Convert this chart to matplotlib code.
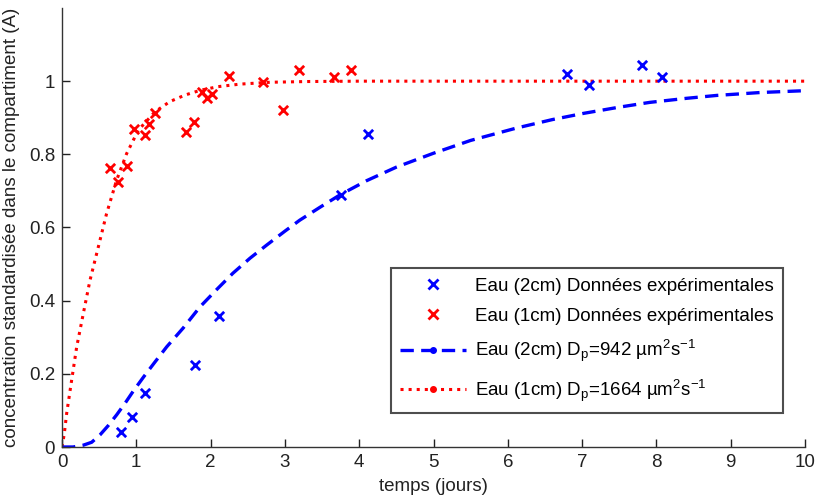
import matplotlib
matplotlib.use("Agg")
import matplotlib.pyplot as plt
from matplotlib.lines import Line2D

FONT = ['Liberation Sans', 'DejaVu Sans']
plt.rcParams['font.family'] = FONT
plt.rcParams['mathtext.fontset'] = 'custom'
plt.rcParams['mathtext.rm'] = 'Liberation Sans'
plt.rcParams['mathtext.it'] = 'Liberation Sans'

# Experimental data
blue_x = [0.79, 0.938, 1.117, 1.79, 2.113, 3.76, 4.114, 6.797, 7.09, 7.81, 8.07]
blue_y = [0.04, 0.081, 0.147, 0.224, 0.358, 0.689, 0.855, 1.019, 0.99, 1.044, 1.012]

red_x = [0.646, 0.758, 0.87, 0.973, 1.113, 1.167, 1.256, 1.665, 1.777, 1.88,
         1.947, 2.015, 2.25, 2.71, 2.97, 3.186, 3.665, 3.89]
red_y = [0.763, 0.725, 0.768, 0.868, 0.852, 0.884, 0.913, 0.860, 0.889, 0.970,
         0.953, 0.966, 1.015, 0.998, 0.921, 1.030, 1.012, 1.030]

# Fitted curves
fit_blue_t = [0.0, 0.15, 0.287, 0.4, 0.511, 0.62, 0.736, 0.85, 0.96, 1.1, 1.25, 1.41,
              1.63, 1.857, 2.08, 2.3, 2.53, 2.755, 3.0, 3.2, 3.47, 3.74, 4.1, 4.5,
              5.0, 5.5, 6.12, 6.6, 7.02, 7.5, 7.91, 8.4, 8.81, 9.4, 10.0]
fit_blue_c = [0.0, 0.0, 0.005, 0.013, 0.033, 0.058, 0.088, 0.12, 0.153, 0.192, 0.232,
              0.274, 0.325, 0.383, 0.43, 0.475, 0.516, 0.552, 0.59, 0.62, 0.655,
              0.689, 0.728, 0.765, 0.803, 0.838, 0.872, 0.895, 0.912, 0.929, 0.942,
              0.953, 0.961, 0.969, 0.974]

fit_red_t = [0.0, 0.03, 0.063, 0.13, 0.198, 0.287, 0.377, 0.489, 0.6, 0.736, 0.87,
             1.027, 1.25, 1.45, 1.655, 1.86, 2.1, 2.4, 2.8, 3.3, 4.0, 5.0, 6.0, 7.0,
             8.0, 9.0, 10.0]
fit_red_c = [0.0, 0.035, 0.092, 0.183, 0.274, 0.365, 0.456, 0.547, 0.638, 0.73,
             0.802, 0.866, 0.916, 0.944, 0.962, 0.975, 0.985, 0.992, 0.997, 0.999,
             1.0, 1.0, 1.0, 1.0, 1.0, 1.0, 1.0]

xticks = [0, 1, 2, 3, 4, 5, 6, 7, 8, 9, 10]
yticks = [0, 0.2, 0.4, 0.6, 0.8, 1.0]
ytick_labels = ['0', '0.2', '0.4', '0.6', '0.8', '1']

FS = 13.5

fig = plt.figure(figsize=(8.15, 4.95), dpi=100)
ax = fig.add_axes([62 / 815, 1 - 447 / 495, 743 / 815, 439 / 495])

ax.plot(fit_red_t, fit_red_c, color='red', linestyle=':', linewidth=2.2, zorder=2)
ax.plot(fit_blue_t, fit_blue_c, color='blue', linestyle=(0, (4, 2.2)), linewidth=2.4, zorder=2)
ax.scatter(blue_x, blue_y, marker='x', color='blue', s=45, linewidths=2, zorder=3)
ax.scatter(red_x, red_y, marker='x', color='red', s=45, linewidths=2, zorder=3)

ax.set_xlim(0, 10)
ax.set_ylim(0, 1.2)
ax.set_xticks(xticks)
ax.set_xticklabels([str(t) for t in xticks])
ax.set_yticks(yticks)
ax.set_yticklabels(ytick_labels)
ax.tick_params(direction='in', length=6, width=1, labelsize=FS, colors='#222222', pad=5)
for side in ['top', 'right']:
    ax.spines[side].set_visible(False)
for side in ['left', 'bottom']:
    ax.spines[side].set_color('#333333')
    ax.spines[side].set_linewidth(1)

ax.set_xlabel('temps (jours)', fontsize=FS, color='#222222', labelpad=5)
ax.set_ylabel('concentration standardisée dans le compartiment (A)', fontsize=13.5,
              color='#222222', labelpad=6)

handles = [
    Line2D([], [], color='blue', marker='x', linestyle='none', markersize=7, markeredgewidth=2),
    Line2D([], [], color='red', marker='x', linestyle='none', markersize=7, markeredgewidth=2),
    Line2D([], [], color='blue', linestyle=(0, (4, 2.2)), linewidth=2.4, marker='.', markersize=8),
    Line2D([], [], color='red', linestyle=':', linewidth=2.2, marker='.', markersize=8),
]
labels = [
    'Eau (2cm) Données expérimentales',
    'Eau (1cm) Données expérimentales',
    r'Eau (2cm) D$_\mathrm{p}$=942 µm$^2$s$^{-1}$',
    r'Eau (1cm) D$_\mathrm{p}$=1664 µm$^2$s$^{-1}$',
]
leg = ax.legend(handles, labels, loc='lower right', bbox_to_anchor=((783 - 62) / 743, 34 / 439),
                bbox_transform=ax.transAxes, borderaxespad=0, fontsize=FS, frameon=True,
                fancybox=False, edgecolor='#222222', handlelength=3.5, handletextpad=0.5,
                labelspacing=0.7, borderpad=0.5)
leg.get_frame().set_linewidth(1.5)

fig.savefig('out.png', dpi=100)
